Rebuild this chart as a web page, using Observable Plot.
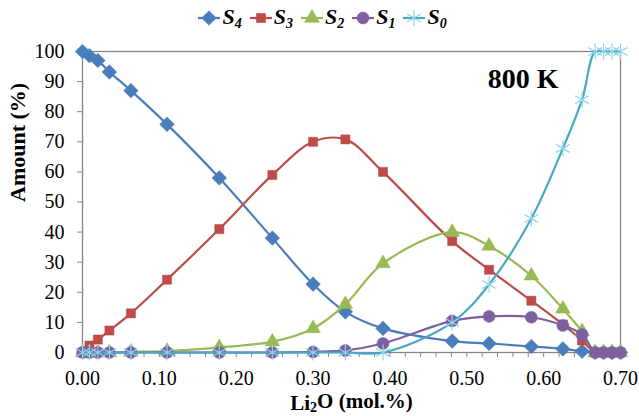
<!DOCTYPE html>
<html>
<head>
<meta charset="utf-8">
<script src="https://cdn.jsdelivr.net/npm/d3@7"></script>
<script src="https://cdn.jsdelivr.net/npm/@observablehq/plot@0.6"></script>
<style>
  html, body { margin: 0; padding: 0; background: #fff; }
  #wrap { width: 639px; height: 416px; position: relative; font-family: "Liberation Serif", serif; }
  #legend { height: 35px; display: flex; justify-content: center; align-items: center; padding-left: 8px; box-sizing: border-box; }
  .item { display: flex; align-items: center; margin: 0 3px; }
  .item span { font-weight: bold; font-style: italic; font-size: 22px; margin-left: 2px; margin-right: 2px; }
  .item sub { font-size: 14px; vertical-align: -4px; }
</style>
</head>
<body>
<div id="wrap">
  <div id="legend"></div>
  <div id="chart"></div>
</div>
<script>
// ---- data ----
const xValues = [0, 0.009, 0.02, 0.035, 0.063, 0.11, 0.178, 0.247, 0.30, 0.342, 0.391, 0.481, 0.529, 0.584, 0.625, 0.65, 0.667, 0.678, 0.689, 0.70];
const s4 = [100, 98.6, 97, 93.2, 87, 75.8, 58, 38, 22.7, 13.5, 8, 3.8, 3, 2, 1.2, 0.4, 0, 0, 0, 0];
const s3 = [0, 2.3, 4.3, 7.3, 13, 24.2, 41, 59, 70, 70.8, 60, 37, 27.5, 17.2, 9.3, 4, 0, 0, 0, 0];
const s2 = [0, 0, 0, 0, 0.2, 0.5, 1.7, 3.6, 8, 16, 29.6, 40, 35.4, 25.5, 14.5, 7, 0, 0, 0, 0];
const s1 = [0, 0, 0, 0, 0, 0, 0, 0, 0.2, 0.7, 3, 10.5, 12, 11.7, 9, 6, 0, 0, 0, 0];
const s0 = [0, 0, 0, 0, 0, 0, 0, 0, 0, 0, 0, 10, 22.6, 44.5, 67.8, 84, 100, 100, 100, 100];
const seriesNames = ["S4", "S3", "S2", "S1", "S0"];
const xTicks = [0, 0.1, 0.2, 0.3, 0.4, 0.5, 0.6, 0.7];
const xMinorTicks = d3.range(0, 36).map(i => +(i * 0.02).toFixed(2));
const yTicks = [0, 10, 20, 30, 40, 50, 60, 70, 80, 90, 100];
const annotation = "800 K";

// ---- styling ----
const styles = {
  S4: {line: "#4A7EBB", fill: "#4A7EBB", stroke: "#4A7EBB", symbol: "diamond2", r: 6.6},
  S3: {line: "#BE4B48", fill: "#BE4B48", stroke: "#BE4B48", symbol: "square2", r: 5.8},
  S2: {line: "#98B954", fill: "#98B954", stroke: "#98B954", symbol: "triangle2", r: 7},
  S1: {line: "#7D60A0", fill: "#7D60A0", stroke: "#7D60A0", symbol: "circle", r: 6},
  S0: {line: "#46AAC5", fill: "none", stroke: "#8ED3E8", symbol: "asterisk", r: 7.5}
};
const allSeries = {S4: s4, S3: s3, S2: s2, S1: s1, S0: s0};
const rows = [];
for (const name of seriesNames) {
  allSeries[name].forEach((v, i) => rows.push({series: name, x: xValues[i], y: v}));
}

const marks = [
  Plot.frame({stroke: "#868686", strokeWidth: 1.3}),
  Plot.axisY({ticks: yTicks, tickSize: 5, tickPadding: 13, label: null, stroke: "#868686", fill: "black", fontSize: 20}),
  Plot.axisX({ticks: xMinorTicks, tickSize: 5, tickPadding: 13, label: null, stroke: "#868686", fill: "black", fontSize: 20,
    tickFormat: d => xTicks.some(t => Math.abs(t - d) < 1e-9) ? d3.format(".2f")(d) : ""})
];
for (const name of seriesNames) {
  const st = styles[name];
  const data = rows.filter(d => d.series === name);
  marks.push(Plot.line(data, {x: "x", y: "y", stroke: st.line, strokeWidth: 2.2, curve: "catmull-rom"}));
  marks.push(Plot.dot(data, {x: "x", y: "y", symbol: () => st.symbol, r: st.r, fill: st.fill, stroke: st.stroke,
    strokeWidth: st.fill === "none" ? 1.2 : 0.5}));
}
marks.push(Plot.text([annotation], {frameAnchor: "top-right", dx: -62, dy: 36, lineAnchor: "bottom", textAnchor: "end",
  fontSize: 28, fontWeight: "bold", fill: "black"}));
marks.push(Plot.text(["Amount (%)"], {frameAnchor: "left", dx: -65, rotate: -90, fontSize: 22, fontWeight: "bold", fill: "black"}));
marks.push(Plot.text(["Li2O (mol.%)"], {frameAnchor: "bottom", dy: 57, fontSize: 21, fontWeight: "bold", fill: "black"}));

const chart = Plot.plot({
  width: 639,
  height: 381,
  marginTop: 16,
  marginLeft: 82,
  marginRight: 19,
  marginBottom: 64,
  x: {domain: [0, 0.7]},
  y: {domain: [0, 100]},
  style: {fontFamily: "Liberation Serif, serif", fontSize: "20px", color: "black", background: "white", overflow: "visible"},
  marks
});
document.getElementById("chart").appendChild(chart);

// subscript in x title
d3.select(chart).selectAll("text").each(function() {
  const t = d3.select(this);
  if (t.text() === "Li2O (mol.%)") {
    t.text(null);
    t.append("tspan").text("Li");
    t.append("tspan").text("2").attr("font-size", 14).attr("dy", "0.2em");
    t.append("tspan").text("O (mol.%)").attr("dy", "-0.2em");
  }
});

// legend
const legend = d3.select("#legend");
const symbolMap = {diamond2: d3.symbolDiamond2, square2: d3.symbolSquare2, triangle2: d3.symbolTriangle2, circle: d3.symbolCircle, asterisk: d3.symbolAsterisk};
for (const name of seriesNames) {
  const st = styles[name];
  const item = legend.append("div").attr("class", "item");
  const svg = item.append("svg").attr("width", 22).attr("height", 20);
  svg.append("line").attr("x1", 0).attr("x2", 22).attr("y1", 10).attr("y2", 10).attr("stroke", st.line).attr("stroke-width", 2.2);
  svg.append("path").attr("transform", "translate(11,10)")
    .attr("d", d3.symbol(symbolMap[st.symbol], Math.PI * st.r * st.r)())
    .attr("fill", st.fill).attr("stroke", st.stroke).attr("stroke-width", st.fill === "none" ? 1.2 : 0.5);
  const label = item.append("span");
  label.text(name[0]);
  label.append("sub").text(name[1]);
}
</script>
</body>
</html>
